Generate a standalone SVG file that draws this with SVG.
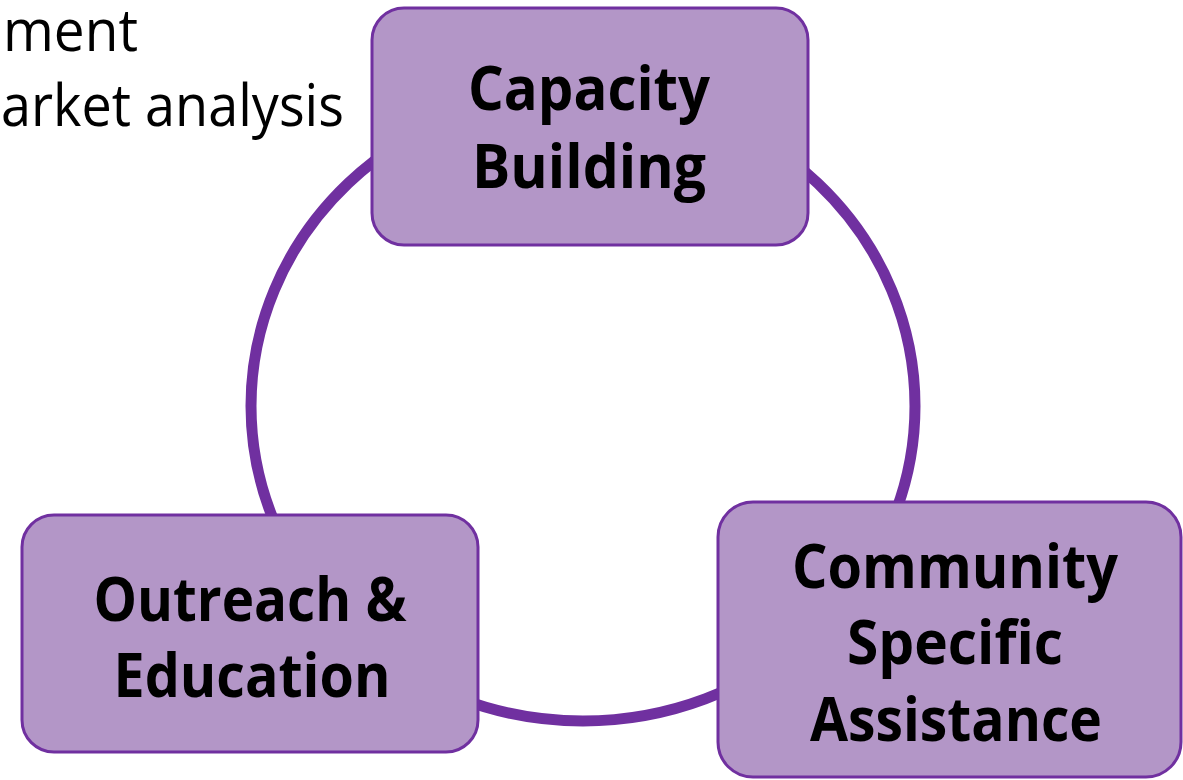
<svg xmlns="http://www.w3.org/2000/svg" width="1183" height="780" viewBox="0 0 1183 780">
  <style>
    .node rect { fill: #B396C7; stroke: #7030A0; stroke-width: 3; }
    .label { font-family: "Open Sans", "Noto Sans", "Liberation Sans", sans-serif; font-weight: 700; font-size: 61px; fill: #000; text-anchor: middle; }
    .bg-text { font-family: "Open Sans", "Noto Sans", "Liberation Sans", sans-serif; font-weight: 400; font-size: 58px; fill: #000; }
    .ring { fill: none; stroke: #7030A0; stroke-width: 11; }
  </style>
  <rect width="1183" height="780" fill="#FFFFFF"/>

  <!-- partially visible body text -->
  <g id="body-text">
    <text class="bg-text" x="3" y="51" textLength="135" lengthAdjust="spacingAndGlyphs">ment</text>
    <text class="bg-text" x="1" y="126" textLength="343" lengthAdjust="spacingAndGlyphs">arket analysis</text>
  </g>

  <!-- cycle ring linking the three nodes -->
  <g id="connectors">
    <ellipse class="ring" cx="583" cy="406" rx="332" ry="315"/>
  </g>

  <g id="capacity-building" class="node">
    <rect x="372" y="8" width="436" height="237" rx="32" ry="32"/>
    <text class="label" x="589" y="110" textLength="242" lengthAdjust="spacingAndGlyphs">Capacity</text>
    <text class="label" x="589" y="188" textLength="234" lengthAdjust="spacingAndGlyphs">Building</text>
  </g>

  <g id="outreach-education" class="node">
    <rect x="22" y="515" width="456" height="237" rx="32" ry="32"/>
    <text class="label" x="250" y="621" textLength="313" lengthAdjust="spacingAndGlyphs">Outreach &amp;</text>
    <text class="label" x="252" y="697" textLength="277" lengthAdjust="spacingAndGlyphs">Education</text>
  </g>

  <g id="community-specific-assistance" class="node">
    <rect x="718" y="502" width="463" height="275" rx="35" ry="35"/>
    <text class="label" x="955" y="588" textLength="326" lengthAdjust="spacingAndGlyphs">Community</text>
    <text class="label" x="955" y="664" textLength="216" lengthAdjust="spacingAndGlyphs">Specific</text>
    <text class="label" x="956" y="741" textLength="292" lengthAdjust="spacingAndGlyphs">Assistance</text>
  </g>
</svg>
